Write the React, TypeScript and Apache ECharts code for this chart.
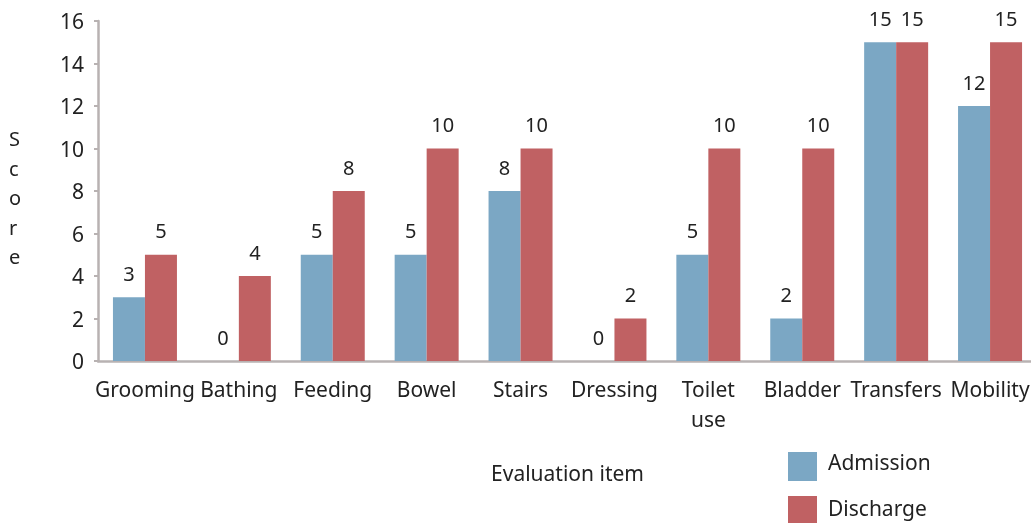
import React, { useEffect, useRef } from "react";
import * as echarts from "echarts";

const categories = ["Grooming", "Bathing", "Feeding", "Bowel", "Stairs", "Dressing", "Toilet\nuse", "Bladder", "Transfers", "Mobility"];
const admission = [3, 0, 5, 5, 8, 0, 5, 2, 15, 12];
const discharge = [5, 4, 8, 10, 10, 2, 10, 10, 15, 15];
const seriesNames = ["Admission", "Discharge"];
const yAxisTitle = "S\nc\no\nr\ne";

const FONT = "'Noto Sans', sans-serif";
const COLORS = ["#7ba7c4", "#c06163"];

export default function App() {
  const ref = useRef<HTMLDivElement>(null);
  useEffect(() => {
    const chart = echarts.init(ref.current!, null, { renderer: "svg" });
    const labelStyle = { show: true, position: "top" as const, distance: 14, fontSize: 20, color: "#222", fontFamily: FONT };
    const legendGraphics: any[] = [];
    seriesNames.forEach((name, i) => {
      legendGraphics.push({
        type: "rect",
        shape: { x: 788, y: 452 + i * 44, width: 29, height: 29 },
        style: { fill: COLORS[i] },
      });
      legendGraphics.push({
        type: "text",
        x: 828,
        y: 462 + i * 46,
        style: { text: name, fontSize: 21, fill: "#222", fontFamily: FONT, verticalAlign: "middle", align: "left" },
      });
    });
    chart.setOption({
      animation: false,
      textStyle: { fontFamily: FONT },
      grid: { left: 98, right: 0, top: 21, bottom: 162 },
      graphic: [
        {
          type: "text",
          left: 9,
          top: 124,
          style: { text: yAxisTitle, fontSize: 20, lineHeight: 29.5, fill: "#222", fontFamily: FONT, align: "center" },
        },
        ...legendGraphics,
      ],
      xAxis: {
        type: "category",
        data: categories,
        name: "Evaluation item",
        nameLocation: "middle",
        nameGap: 101,
        nameTextStyle: { fontSize: 21, color: "#222", fontFamily: FONT },
        axisLine: { lineStyle: { color: "#b8b2b2", width: 2.5 } },
        axisTick: { show: false },
        axisLabel: { fontSize: 21, color: "#222", fontFamily: FONT, margin: 13, interval: 0, lineHeight: 30 },
      },
      yAxis: {
        type: "value",
        min: 0,
        max: 16,
        interval: 2,
        splitLine: { show: false },
        axisLine: { show: true, lineStyle: { color: "#b8b2b2", width: 2.5 } },
        axisTick: { show: true, length: 4, lineStyle: { color: "#b8b2b2", width: 2 } },
        axisLabel: { fontSize: 21, color: "#222", fontFamily: FONT, margin: 14 },
      },
      series: [
        {
          name: seriesNames[0],
          type: "bar",
          data: admission,
          barWidth: 32,
          barGap: "0%",
          itemStyle: { color: COLORS[0] },
          label: labelStyle,
        },
        {
          name: seriesNames[1],
          type: "bar",
          data: discharge,
          barWidth: 32,
          itemStyle: { color: COLORS[1] },
          label: labelStyle,
        },
      ],
    });
    return () => chart.dispose();
  }, []);
  return (
    <div style={{ position: "fixed", left: 0, top: 0, width: 1031, height: 523, overflow: "hidden" }}>
      <div ref={ref} style={{ position: "absolute", left: 0, top: 0, width: 1037, height: 523 }} />
    </div>
  );
}
